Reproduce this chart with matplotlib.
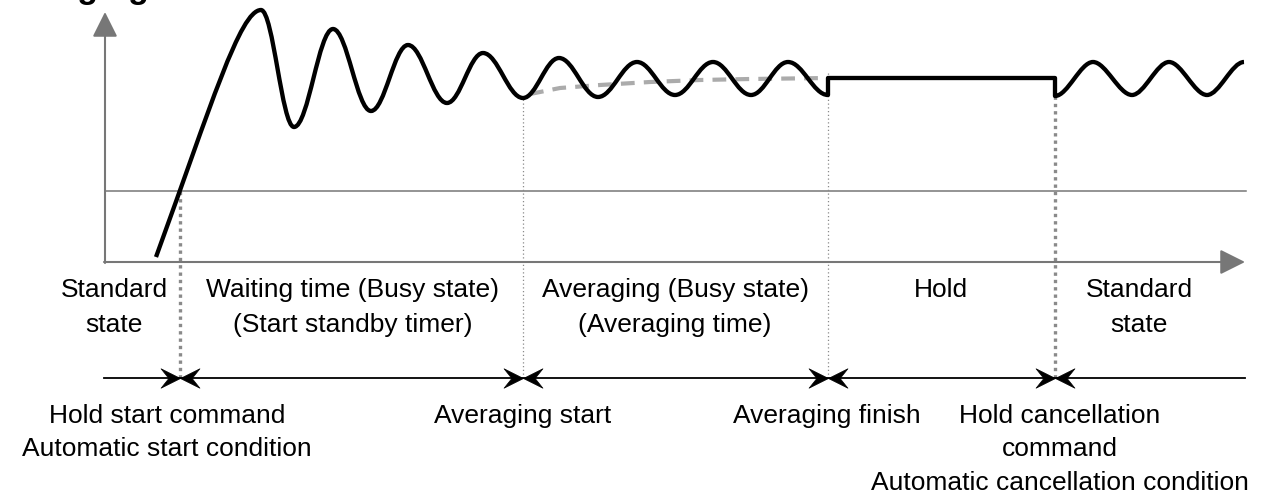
import matplotlib
matplotlib.use("Agg")
import matplotlib.pyplot as plt
from matplotlib.path import Path
from matplotlib.patches import PathPatch

plt.rcParams['font.family'] = ['Liberation Sans', 'DejaVu Sans']

# signal: (time, level) of start and turning points
rise_t = [51, 156]
rise_v = [5, 252]
wave_t = [156, 189, 228, 266, 303, 342, 378, 418, 454, 493, 532, 570, 608, 646, 683, 723]
wave_v = [252, 135, 233, 151, 217, 159, 209, 164, 204, 165, 200, 167, 200, 167, 200, 167]
hold_t = [723, 950]
hold_v = [184, 184]
after_t = [950, 988, 1027, 1064, 1102, 1139]
after_v = [166, 200, 167, 200, 167, 200]

# running average (grey dashed)
avg_t = [425, 455, 495, 545, 595, 645, 723]
avg_v = [168, 174, 177, 180, 182, 183, 184]

threshold = 71
t_end = 1140
v_top = 250

event_t = [75, 418, 723, 950]
event_top = [71, 164, 189, 166]
event_bold = [True, False, False, True]
event_names = ["Hold start command\nAutomatic start condition",
               "Averaging start",
               "Averaging finish",
               "Hold cancellation\ncommand\nAutomatic cancellation condition"]

state_names = ["Standard\nstate",
               "Waiting time (Busy state)\n(Start standby timer)",
               "Averaging (Busy state)\n(Averaging time)",
               "Hold",
               "Standard\nstate"]

GREY = '#777777'
DOT = '#8a8a8a'
FS = 19


def smooth(ts, vs, k=0.37):
    verts, codes = [], []
    for i in range(1, len(ts)):
        d = ts[i] - ts[i - 1]
        verts += [(ts[i - 1] + k * d, vs[i - 1]), (ts[i] - k * d, vs[i]), (ts[i], vs[i])]
        codes += [Path.CURVE4] * 3
    return verts, codes


def lines_text(ax, x, y0, step, name):
    # one text per line so each baseline sits where it should
    for i, line in enumerate(name.split('\n')):
        ax.text(x, y0 - i * step, line, ha='center', va='baseline', fontsize=FS)


def main():
    fig = plt.figure(figsize=(12.66, 4.94), dpi=100)
    ax = fig.add_axes([0, 0, 1, 1])
    ax.set_xlim(-105, 1161)
    ax.set_ylim(-232, 262)
    ax.axis('off')

    # axes with arrows
    arrow = dict(arrowstyle='-|>,head_length=0.7,head_width=0.35', color=GREY,
                 lw=1.5, mutation_scale=22, shrinkA=0, shrinkB=0)
    ax.annotate('', xy=(0, v_top), xytext=(0, -1), arrowprops=arrow)
    ax.annotate('', xy=(t_end, 0), xytext=(-1, 0), arrowprops=arrow)
    ax.plot([0, t_end + 1], [threshold, threshold], color=GREY, lw=1.1)

    # event lines
    line_y = -116
    for t, top, bold in zip(event_t, event_top, event_bold):
        if bold:
            ax.plot([t, t], [line_y, top], color=DOT, lw=2.4, ls=(0, (1, 1.2)), zorder=2)
        else:
            ax.plot([t, t], [line_y, top], color=DOT, lw=0.9, ls=(0, (1, 2)), zorder=2)

    # average
    ax.plot(avg_t, avg_v, color='#ababab', lw=3, dashes=(3.3, 2.2), zorder=3)

    # signal curve
    verts = [(rise_t[0], rise_v[0]),
             (rise_t[0] + 55, rise_v[0] + 151),
             (rise_t[1] - 21, rise_v[1]),
             (rise_t[1], rise_v[1])]
    codes = [Path.MOVETO, Path.CURVE4, Path.CURVE4, Path.CURVE4]
    v, c = smooth(wave_t, wave_v)
    verts += v
    codes += c
    verts += [(hold_t[0], hold_v[0]), (hold_t[1], hold_v[1]), (after_t[0], after_v[0])]
    codes += [Path.LINETO] * 3
    v, c = smooth(after_t, after_v, k=0.33)
    verts += v
    codes += c
    ax.add_patch(PathPatch(Path(verts, codes), fill=False, lw=3.1, ec='black',
                           capstyle='butt', joinstyle='round', zorder=4))

    # timeline with arrowheads
    ax.plot([-1, t_end], [line_y, line_y], color='black', lw=1.3)
    head_r = Path([(0, 0), (-1, 0.5), (-0.6, 0), (-1, -0.5), (0, 0)],
                  [Path.MOVETO, Path.LINETO, Path.LINETO, Path.LINETO, Path.CLOSEPOLY])
    head_l = Path([(0, 0), (1, 0.5), (0.6, 0), (1, -0.5), (0, 0)],
                  [Path.MOVETO, Path.LINETO, Path.LINETO, Path.LINETO, Path.CLOSEPOLY])
    ax.plot(event_t, [line_y] * len(event_t), ls='none', marker=head_r, ms=28,
            mfc='black', mec='black', mew=0.5, zorder=5)
    ax.plot(event_t, [line_y] * len(event_t), ls='none', marker=head_l, ms=28,
            mfc='black', mec='black', mew=0.5, zorder=5)

    # state labels
    state_x = [9, 248, 570, 836, 1034]
    for x, name in zip(state_x, state_names):
        lines_text(ax, x, -35, 34.5, name)

    # event labels
    label_x = [62, 418, 722, 955]
    for x, name in zip(label_x, event_names):
        lines_text(ax, x, -161, 33.3, name)

    # title, mostly cut off at the top edge
    ax.text(44, 264, "Averaging", ha='right', va='baseline', fontsize=24.5,
            fontweight='bold')

    fig.savefig("out.png", dpi=100)


if __name__ == "__main__":
    main()
